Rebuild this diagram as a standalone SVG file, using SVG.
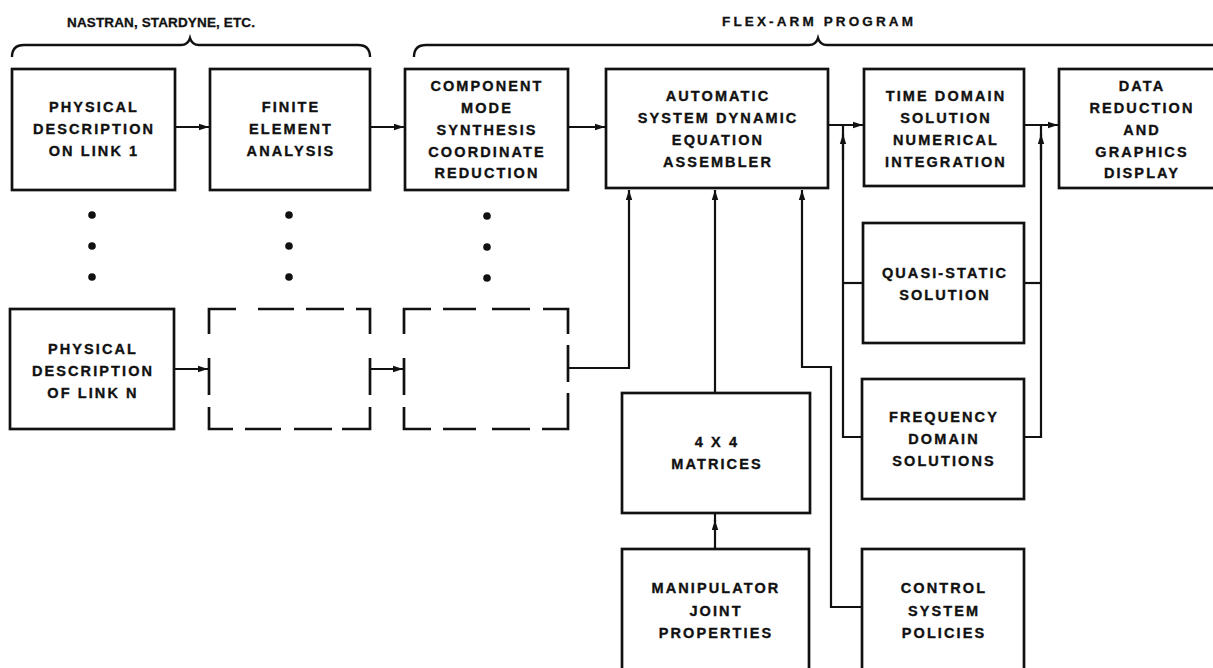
<svg xmlns="http://www.w3.org/2000/svg" width="1213" height="668" viewBox="0 0 1213 668">
  <style>
    .box { fill: #fff; stroke: #111; stroke-width: 2.7; }
    .dash { fill: none; stroke: #111; stroke-width: 2.7; stroke-linecap: butt; }
    .ln { fill: none; stroke: #111; stroke-width: 2.2; }
    .brace { fill: none; stroke: #111; stroke-width: 2.4; }
    .t { font-family: "Liberation Sans", Arial, sans-serif; font-weight: bold; font-size: 14.5px; letter-spacing: 2.1px; fill: #111; stroke: #111; stroke-width: 0.35; text-anchor: middle; }
    .h { font-family: "Liberation Sans", Arial, sans-serif; font-weight: bold; font-size: 13.5px; fill: #111; stroke: #111; stroke-width: 0.3; }
    .dot { fill: #111; }
  </style>
  <defs>
    <marker id="ah" viewBox="0 0 10 8" refX="10" refY="4" markerWidth="10" markerHeight="8" markerUnits="userSpaceOnUse" orient="auto">
      <path d="M0,0.8 L10,4 L0,7.2 Z" fill="#111"/>
    </marker>
  </defs>

  <!-- group headers -->
  <g id="hdr-left">
    <text class="h" x="67" y="27" textLength="188" lengthAdjust="spacing">NASTRAN, STARDYNE, ETC.</text>
    <path class="brace" d="M12,57 Q12,45 24,45 H181 Q188,45 190,38 Q192,45 199,45 H358 Q370,45 370,57"/>
  </g>
  <g id="hdr-right">
    <text class="h" x="722" y="26" textLength="191" lengthAdjust="spacing">FLEX-ARM PROGRAM</text>
    <path class="brace" d="M414,57 Q414,45 426,45 H809 Q816,45 818,38 Q820,45 827,45 H1220"/>
  </g>

  <!-- top row -->
  <g id="link1">
    <rect class="box" x="12" y="69" width="163" height="121"/>
    <text class="t" x="94" y="112">PHYSICAL</text>
    <text class="t" x="94" y="134">DESCRIPTION</text>
    <text class="t" x="94" y="156">ON LINK 1</text>
  </g>
  <g id="fea">
    <rect class="box" x="210" y="69" width="160" height="121"/>
    <text class="t" x="291" y="112">FINITE</text>
    <text class="t" x="291" y="134">ELEMENT</text>
    <text class="t" x="291" y="156">ANALYSIS</text>
  </g>
  <g id="cms">
    <rect class="box" x="405" y="69" width="163" height="121"/>
    <text class="t" x="487" y="91">COMPONENT</text>
    <text class="t" x="487" y="113">MODE</text>
    <text class="t" x="487" y="135">SYNTHESIS</text>
    <text class="t" x="487" y="157">COORDINATE</text>
    <text class="t" x="487" y="178">REDUCTION</text>
  </g>
  <g id="assembler">
    <rect class="box" x="606" y="69" width="222" height="119"/>
    <text class="t" x="718" y="101">AUTOMATIC</text>
    <text class="t" x="718" y="123">SYSTEM DYNAMIC</text>
    <text class="t" x="718" y="145">EQUATION</text>
    <text class="t" x="718" y="167">ASSEMBLER</text>
  </g>
  <g id="time-domain">
    <rect class="box" x="864" y="69" width="160" height="117"/>
    <text class="t" x="946" y="101">TIME DOMAIN</text>
    <text class="t" x="946" y="123">SOLUTION</text>
    <text class="t" x="946" y="145">NUMERICAL</text>
    <text class="t" x="946" y="167">INTEGRATION</text>
  </g>
  <g id="data-reduction">
    <rect class="box" x="1059" y="69" width="164" height="119"/>
    <text class="t" x="1142" y="91">DATA</text>
    <text class="t" x="1142" y="113">REDUCTION</text>
    <text class="t" x="1142" y="135">AND</text>
    <text class="t" x="1142" y="157">GRAPHICS</text>
    <text class="t" x="1142" y="178">DISPLAY</text>
  </g>

  <!-- ellipsis between link 1 and link N -->
  <g id="ellipsis">
    <circle class="dot" cx="92" cy="215" r="3.8"/>
    <circle class="dot" cx="92" cy="246" r="3.8"/>
    <circle class="dot" cx="92" cy="277" r="3.8"/>
    <circle class="dot" cx="289" cy="215" r="3.8"/>
    <circle class="dot" cx="289" cy="246" r="3.8"/>
    <circle class="dot" cx="289" cy="277" r="3.8"/>
    <circle class="dot" cx="487" cy="216" r="3.8"/>
    <circle class="dot" cx="487" cy="247" r="3.8"/>
    <circle class="dot" cx="487" cy="278" r="3.8"/>
  </g>

  <!-- link N row -->
  <g id="linkN">
    <rect class="box" x="10" y="309" width="164" height="120"/>
    <text class="t" x="93" y="354">PHYSICAL</text>
    <text class="t" x="93" y="376">DESCRIPTION</text>
    <text class="t" x="93" y="398">OF LINK N</text>
  </g>
  <g id="feaN">
    <path class="dash" d="M209,334 V309 H236 M258,309 H294 M306,309 H344 M356,309 H370 V334 M370,358 V395 M370,407 V429 H342 M332,429 H294 M281,429 H245 M233,429 H209 V407 M209,395 V358"/>
  </g>
  <g id="cmsN">
    <path class="dash" d="M404,334 V309 H431 M443,309 H476 M492,309 H530 M543,309 H568 V334 M568,345 V382 M568,393 V429 H542 M530,429 H492 M476,429 H443 M431,429 H404 V407 M404,395 V358"/>
  </g>

  <!-- lower column -->
  <g id="quasi-static">
    <rect class="box" x="863" y="223" width="161" height="120"/>
    <text class="t" x="945" y="278">QUASI-STATIC</text>
    <text class="t" x="945" y="300">SOLUTION</text>
  </g>
  <g id="frequency">
    <rect class="box" x="862" y="379" width="162" height="120"/>
    <text class="t" x="944" y="422">FREQUENCY</text>
    <text class="t" x="944" y="444">DOMAIN</text>
    <text class="t" x="944" y="466">SOLUTIONS</text>
  </g>
  <g id="matrices">
    <rect class="box" x="622" y="393" width="188" height="120"/>
    <text class="t" x="717" y="447">4 X 4</text>
    <text class="t" x="717" y="469">MATRICES</text>
  </g>
  <g id="joint-properties">
    <rect class="box" x="622" y="549" width="187" height="130"/>
    <text class="t" x="716" y="593">MANIPULATOR</text>
    <text class="t" x="716" y="616">JOINT</text>
    <text class="t" x="716" y="638">PROPERTIES</text>
  </g>
  <g id="control">
    <rect class="box" x="862" y="549" width="162" height="130"/>
    <text class="t" x="944" y="593">CONTROL</text>
    <text class="t" x="944" y="616">SYSTEM</text>
    <text class="t" x="944" y="638">POLICIES</text>
  </g>

  <!-- connectors -->
  <g id="connectors">
    <path class="ln" d="M175,127 H209" marker-end="url(#ah)"/>
    <path class="ln" d="M370,127 H404" marker-end="url(#ah)"/>
    <path class="ln" d="M568,127 H605" marker-end="url(#ah)"/>
    <path class="ln" d="M828,125 H863" marker-end="url(#ah)"/>
    <path class="ln" d="M1024,125 H1058" marker-end="url(#ah)"/>

    <path class="ln" d="M174,369 H208" marker-end="url(#ah)"/>
    <path class="ln" d="M370,369 H403" marker-end="url(#ah)"/>

    <path class="ln" d="M568,368 H629 V190" marker-end="url(#ah)"/>
    <path class="ln" d="M715,393 V190" marker-end="url(#ah)"/>
    <path class="ln" d="M715,549 V520" marker-end="url(#ah)"/>
    <path class="ln" d="M715,522 V513"/>
    <path class="ln" d="M862,607 H831 V367 H802 V190" marker-end="url(#ah)"/>

    <!-- branch bus to quasi-static and frequency solutions -->
    <path class="ln" d="M862,437 H843 V125"/>
    <path class="ln" d="M863,283 H843"/>
    <path class="ln" d="M843,160 V134" marker-end="url(#ah)"/>

    <!-- return bus to data reduction -->
    <path class="ln" d="M1024,437 H1041 V125"/>
    <path class="ln" d="M1024,283 H1041"/>
    <path class="ln" d="M1041,160 V134" marker-end="url(#ah)"/>
  </g>
</svg>
